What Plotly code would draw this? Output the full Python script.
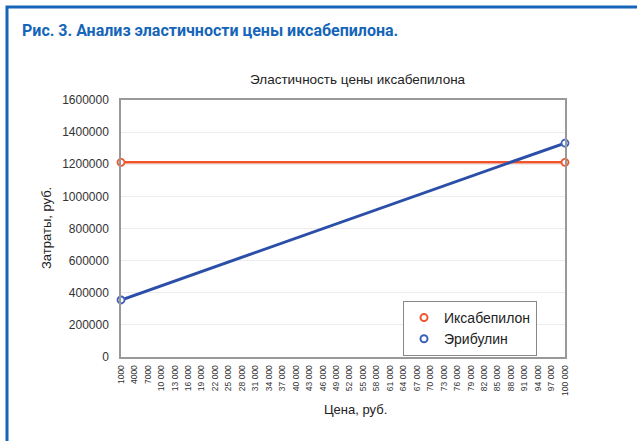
import plotly.graph_objects as go

# Data
price_ticks = list(range(1000, 100001, 3000))
price_tick_labels = [f"{v:,}".replace(",", " ") if v >= 10000 else str(v) for v in price_ticks]
price = [1000, 100000]
ixabepilone = [1212000, 1212000]
eribulin = [355000, 1332000]
y_ticks = [0, 200000, 400000, 600000, 800000, 1000000, 1200000, 1400000, 1600000]

L, R, T, B = 121, 72, 100, 84
W, H = 637, 441
pw, ph = W - L - R, H - T - B

def px(x):
    return (x - L) / pw

def py(y):
    return (H - B - y) / ph

ORANGE = "#f0552c"
BLUE = "#2b4fa8"
BLUE_MK = "#3d62bd"

fig = go.Figure()
fig.add_trace(go.Scatter(x=price, y=ixabepilone, name="Иксабепилон", mode="lines+markers",
                         line=dict(color=ORANGE, width=2.5), showlegend=False,
                         marker=dict(symbol="circle", size=7, color="white", line=dict(width=1.8, color=ORANGE)),
                         cliponaxis=False))
fig.add_trace(go.Scatter(x=price, y=eribulin, name="Эрибулин", mode="lines+markers",
                         line=dict(color=BLUE, width=3), showlegend=False,
                         marker=dict(symbol="circle", size=7, color="white", line=dict(width=1.8, color=BLUE_MK)),
                         cliponaxis=False))
# legend entries (markers only, as in the reference)
fig.add_trace(go.Scatter(x=[None], y=[None], name="Иксабепилон", mode="markers",
                         marker=dict(symbol="circle", size=7, color="white", line=dict(width=2, color=ORANGE))))
fig.add_trace(go.Scatter(x=[None], y=[None], name="Эрибулин", mode="markers",
                         marker=dict(symbol="circle", size=7, color="white", line=dict(width=2, color=BLUE_MK))))

fig.update_layout(
    width=W, height=H,
    margin=dict(l=L, r=R, t=T, b=B),
    paper_bgcolor="white", plot_bgcolor="white",
    font=dict(family="Liberation Sans, Arial, sans-serif", color="#222"),
    showlegend=True,
    legend=dict(x=px(403), y=py(301), xanchor="left", yanchor="top",
                bgcolor="white", bordercolor="#888", borderwidth=1,
                font=dict(size=14, color="#222"), itemwidth=30,
                tracegroupgap=0),
    xaxis=dict(range=[1000, 100000], tickmode="array", tickvals=price_ticks, ticktext=price_tick_labels,
               tickangle=-90, tickfont=dict(size=8.5, color="#333"), showgrid=False,
               showline=True, linecolor="#999", linewidth=1.5, mirror=True, zeroline=False,
               ticks="outside", ticklen=3, tickcolor="rgba(0,0,0,0)"),
    yaxis=dict(range=[0, 1600000], tickmode="array", tickvals=y_ticks,
               ticktext=[str(v) for v in y_ticks], tickfont=dict(size=12, color="#333"),
               showgrid=True, gridcolor="#ececec", gridwidth=1,
               showline=True, linecolor="#999", linewidth=1.5, mirror=True, zeroline=False,
               ticks="outside", ticklen=8, tickcolor="rgba(0,0,0,0)"),
    shapes=[
        dict(type="rect", xref="paper", yref="paper",
             x0=px(7), x1=px(700), y0=py(7), y1=py(500),
             line=dict(color="#1565b8", width=3), fillcolor="rgba(0,0,0,0)", layer="above"),
    ],
    annotations=[
        dict(text="<b>Рис. 3. Анализ эластичности цены иксабепилона.</b>", xref="paper", yref="paper",
             x=px(20), y=py(30), xanchor="left", yanchor="middle", showarrow=False,
             font=dict(family="Liberation Sans Narrow, Arial Narrow, Roboto, sans-serif", size=16, color="#1565b8")),
        dict(text="Эластичность цены иксабепилона", xref="paper", yref="paper",
             x=px(358), y=py(79), xanchor="center", yanchor="middle", showarrow=False,
             font=dict(size=13.5, color="#222")),
        dict(text="Затраты, руб.", xref="paper", yref="paper", textangle=-90,
             x=px(46), y=py(228), xanchor="center", yanchor="middle", showarrow=False,
             font=dict(size=13, color="#222")),
        dict(text="Цена, руб.", xref="paper", yref="paper",
             x=px(355), y=py(409), xanchor="center", yanchor="middle", showarrow=False,
             font=dict(size=13, color="#222")),
    ],
)

fig.write_html("out.html", config={"displayModeBar": False},
               post_script="document.body.style.margin='0';")
